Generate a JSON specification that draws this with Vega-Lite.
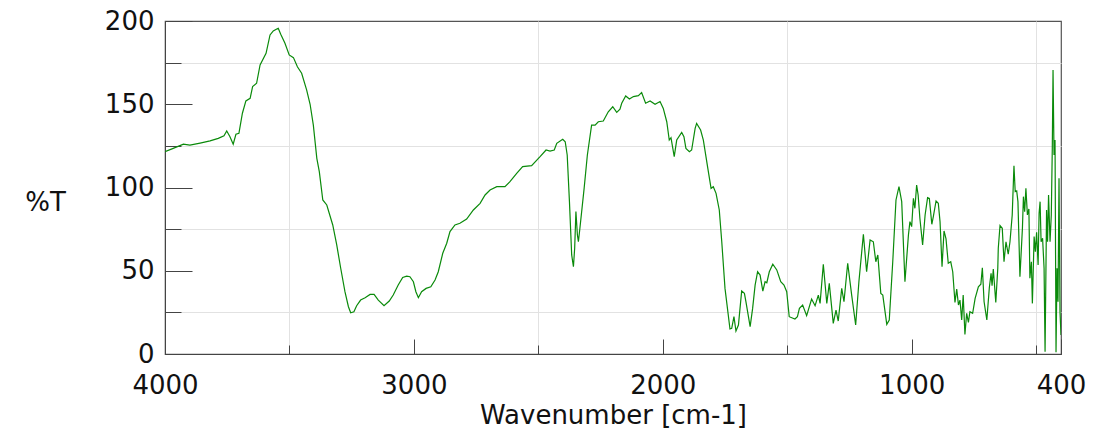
{
  "$schema": "https://vega.github.io/schema/vega-lite/v6.json",
  "width": 896,
  "height": 333,
  "autosize": {"type": "none"},
  "padding": {"left": 165, "top": 21, "right": 39, "bottom": 78},
  "background": "white",
  "config": {
    "view": {"stroke": "#555555", "strokeWidth": 1.2},
    "axis": {
      "domainColor": "#444444",
      "tickColor": "#444444",
      "gridColor": "#e2e2e2",
      "labelFont": "DejaVu Sans",
      "labelFontSize": 26,
      "labelColor": "#111111",
      "titleFont": "DejaVu Sans",
      "titleFontSize": 26,
      "titleFontWeight": "normal",
      "titleColor": "#111111",
      "labelFlush": false,
      "labelOverlap": false
    }
  },
  "data": {
    "values": [
      {"wn": 4000, "t": 121.5}, {"wn": 3967, "t": 123.5}, {"wn": 3926, "t": 126}, {"wn": 3900, "t": 125.5},
      {"wn": 3859, "t": 126.7}, {"wn": 3819, "t": 128}, {"wn": 3786, "t": 129.5}, {"wn": 3763, "t": 131},
      {"wn": 3752, "t": 134}, {"wn": 3739, "t": 130.5}, {"wn": 3726, "t": 126}, {"wn": 3715, "t": 132},
      {"wn": 3703, "t": 132.5}, {"wn": 3689, "t": 144.6}, {"wn": 3675, "t": 152}, {"wn": 3658, "t": 153.6},
      {"wn": 3648, "t": 160.6}, {"wn": 3632, "t": 162.6}, {"wn": 3618, "t": 173.6}, {"wn": 3594, "t": 180.6},
      {"wn": 3578, "t": 191.6}, {"wn": 3565, "t": 194}, {"wn": 3551, "t": 195.2}, {"wn": 3545, "t": 195.6},
      {"wn": 3535, "t": 192}, {"wn": 3518, "t": 186.6}, {"wn": 3501, "t": 179.6}, {"wn": 3484, "t": 178},
      {"wn": 3468, "t": 172.5}, {"wn": 3451, "t": 168.6}, {"wn": 3431, "t": 158.6}, {"wn": 3417, "t": 150},
      {"wn": 3404, "t": 137.5}, {"wn": 3390, "t": 117.5}, {"wn": 3380, "t": 109.5}, {"wn": 3366, "t": 92.5},
      {"wn": 3350, "t": 89.5}, {"wn": 3326, "t": 77.5}, {"wn": 3310, "t": 65.5}, {"wn": 3294, "t": 51.5},
      {"wn": 3277, "t": 37.4}, {"wn": 3263, "t": 28.4}, {"wn": 3254, "t": 24.8}, {"wn": 3241, "t": 25.4},
      {"wn": 3230, "t": 29}, {"wn": 3214, "t": 32.4}, {"wn": 3196, "t": 33.8}, {"wn": 3176, "t": 35.8},
      {"wn": 3160, "t": 35.8}, {"wn": 3143, "t": 32.4}, {"wn": 3120, "t": 29}, {"wn": 3099, "t": 31.8},
      {"wn": 3083, "t": 35.4}, {"wn": 3063, "t": 41.4}, {"wn": 3045, "t": 46}, {"wn": 3029, "t": 46.8},
      {"wn": 3016, "t": 46.4}, {"wn": 3002, "t": 43.4}, {"wn": 2992, "t": 37.4}, {"wn": 2982, "t": 33.8},
      {"wn": 2969, "t": 37.4}, {"wn": 2951, "t": 39.4}, {"wn": 2932, "t": 40.4}, {"wn": 2915, "t": 44.4},
      {"wn": 2902, "t": 49.4}, {"wn": 2884, "t": 60.5}, {"wn": 2868, "t": 66.5}, {"wn": 2855, "t": 73.5},
      {"wn": 2835, "t": 77.5}, {"wn": 2815, "t": 78.5}, {"wn": 2788, "t": 81}, {"wn": 2761, "t": 86.5},
      {"wn": 2734, "t": 90.5}, {"wn": 2714, "t": 95.5}, {"wn": 2694, "t": 98.5}, {"wn": 2667, "t": 100.5},
      {"wn": 2634, "t": 100.5}, {"wn": 2614, "t": 103.5}, {"wn": 2587, "t": 108.5}, {"wn": 2563, "t": 112.5},
      {"wn": 2527, "t": 113.1}, {"wn": 2493, "t": 118.5}, {"wn": 2469, "t": 122.5}, {"wn": 2453, "t": 121.9},
      {"wn": 2436, "t": 122.5}, {"wn": 2426, "t": 126.5}, {"wn": 2402, "t": 129}, {"wn": 2392, "t": 127.5},
      {"wn": 2384, "t": 119.5}, {"wn": 2375, "t": 91.5}, {"wn": 2366, "t": 59.5}, {"wn": 2359, "t": 52.4},
      {"wn": 2354, "t": 63.5}, {"wn": 2349, "t": 85.5}, {"wn": 2343, "t": 71.5}, {"wn": 2339, "t": 67.4},
      {"wn": 2333, "t": 75.5}, {"wn": 2316, "t": 99.5}, {"wn": 2303, "t": 119.5}, {"wn": 2286, "t": 137.5},
      {"wn": 2272, "t": 137.5}, {"wn": 2259, "t": 139.5}, {"wn": 2239, "t": 139.9}, {"wn": 2219, "t": 145.5},
      {"wn": 2201, "t": 148.5}, {"wn": 2185, "t": 145.1}, {"wn": 2172, "t": 147}, {"wn": 2165, "t": 150.6},
      {"wn": 2149, "t": 155}, {"wn": 2134, "t": 153.2}, {"wn": 2118, "t": 154.6}, {"wn": 2098, "t": 155.2},
      {"wn": 2085, "t": 157}, {"wn": 2069, "t": 150.6}, {"wn": 2051, "t": 152}, {"wn": 2031, "t": 150},
      {"wn": 2011, "t": 151.6}, {"wn": 1998, "t": 147.5}, {"wn": 1984, "t": 139.5}, {"wn": 1974, "t": 128.5},
      {"wn": 1967, "t": 129.9}, {"wn": 1954, "t": 118.5}, {"wn": 1944, "t": 128.5}, {"wn": 1924, "t": 133.1},
      {"wn": 1915, "t": 130.5}, {"wn": 1907, "t": 123.5}, {"wn": 1893, "t": 121.5}, {"wn": 1884, "t": 122.5},
      {"wn": 1870, "t": 135.5}, {"wn": 1864, "t": 138.5}, {"wn": 1848, "t": 134.5}, {"wn": 1837, "t": 128.5},
      {"wn": 1819, "t": 111.5}, {"wn": 1806, "t": 99.5}, {"wn": 1797, "t": 100.5}, {"wn": 1786, "t": 96.5},
      {"wn": 1773, "t": 86.5}, {"wn": 1763, "t": 67.4}, {"wn": 1750, "t": 39.4}, {"wn": 1730, "t": 15},
      {"wn": 1723, "t": 15.4}, {"wn": 1714, "t": 22.4}, {"wn": 1706, "t": 13.8}, {"wn": 1696, "t": 17.4},
      {"wn": 1683, "t": 37.8}, {"wn": 1672, "t": 36.4}, {"wn": 1666, "t": 31.4}, {"wn": 1649, "t": 16.4},
      {"wn": 1639, "t": 27.4}, {"wn": 1629, "t": 41.4}, {"wn": 1619, "t": 49.4}, {"wn": 1609, "t": 47.4},
      {"wn": 1598, "t": 37.8}, {"wn": 1589, "t": 43.4}, {"wn": 1582, "t": 42.8}, {"wn": 1572, "t": 49.4},
      {"wn": 1558, "t": 53.9}, {"wn": 1542, "t": 50.5}, {"wn": 1526, "t": 43.4}, {"wn": 1513, "t": 41.4},
      {"wn": 1502, "t": 37.4}, {"wn": 1492, "t": 22.4}, {"wn": 1469, "t": 21}, {"wn": 1459, "t": 22.4},
      {"wn": 1451, "t": 27.4}, {"wn": 1438, "t": 29.4}, {"wn": 1422, "t": 23}, {"wn": 1402, "t": 33},
      {"wn": 1388, "t": 29}, {"wn": 1375, "t": 35.4}, {"wn": 1368, "t": 30.4}, {"wn": 1355, "t": 53.9},
      {"wn": 1341, "t": 30.4}, {"wn": 1331, "t": 42.4}, {"wn": 1315, "t": 18.4}, {"wn": 1304, "t": 26.4},
      {"wn": 1295, "t": 19.8}, {"wn": 1281, "t": 39.4}, {"wn": 1272, "t": 31.4}, {"wn": 1257, "t": 54.5},
      {"wn": 1241, "t": 35.4}, {"wn": 1225, "t": 17.4}, {"wn": 1212, "t": 43.4}, {"wn": 1194, "t": 71.9},
      {"wn": 1181, "t": 49.4}, {"wn": 1167, "t": 68.5}, {"wn": 1154, "t": 67.4}, {"wn": 1144, "t": 55.4},
      {"wn": 1136, "t": 59.5}, {"wn": 1124, "t": 36.4}, {"wn": 1116, "t": 35.4}, {"wn": 1100, "t": 17.8},
      {"wn": 1090, "t": 20.4}, {"wn": 1076, "t": 55.4}, {"wn": 1063, "t": 92.5}, {"wn": 1051, "t": 100.5},
      {"wn": 1040, "t": 91.5}, {"wn": 1027, "t": 43.4}, {"wn": 1013, "t": 71.5}, {"wn": 1007, "t": 79.5},
      {"wn": 1000, "t": 76.5}, {"wn": 993, "t": 93.5}, {"wn": 987, "t": 87.5}, {"wn": 980, "t": 101.5},
      {"wn": 974, "t": 95.5}, {"wn": 967, "t": 81.5}, {"wn": 956, "t": 65.5}, {"wn": 946, "t": 83.5},
      {"wn": 936, "t": 93.9}, {"wn": 929, "t": 93.5}, {"wn": 919, "t": 77.9}, {"wn": 913, "t": 82.5},
      {"wn": 902, "t": 91.9}, {"wn": 893, "t": 90.5}, {"wn": 886, "t": 79.5}, {"wn": 878, "t": 52.4},
      {"wn": 870, "t": 73.9}, {"wn": 862, "t": 69.1}, {"wn": 853, "t": 54.5}, {"wn": 843, "t": 55.4},
      {"wn": 835, "t": 49.4}, {"wn": 826, "t": 31}, {"wn": 819, "t": 39}, {"wn": 812, "t": 29.4},
      {"wn": 806, "t": 32.4}, {"wn": 799, "t": 20.4}, {"wn": 793, "t": 35.4}, {"wn": 786, "t": 11.8},
      {"wn": 779, "t": 24.4}, {"wn": 772, "t": 19}, {"wn": 766, "t": 25.4}, {"wn": 755, "t": 24.4},
      {"wn": 745, "t": 33.4}, {"wn": 732, "t": 40.4}, {"wn": 722, "t": 41.9}, {"wn": 716, "t": 51.8},
      {"wn": 709, "t": 31.4}, {"wn": 698, "t": 20.4}, {"wn": 688, "t": 39.8}, {"wn": 681, "t": 48.5},
      {"wn": 677, "t": 41}, {"wn": 672, "t": 51}, {"wn": 662, "t": 31}, {"wn": 654, "t": 51.5},
      {"wn": 652, "t": 63.5}, {"wn": 645, "t": 77.1}, {"wn": 636, "t": 75.5}, {"wn": 629, "t": 55.4},
      {"wn": 621, "t": 67.4}, {"wn": 612, "t": 59.9}, {"wn": 605, "t": 67.4}, {"wn": 596, "t": 83.5},
      {"wn": 589, "t": 113.1}, {"wn": 584, "t": 97.5}, {"wn": 578, "t": 97.9}, {"wn": 573, "t": 91.5},
      {"wn": 565, "t": 46.4}, {"wn": 555, "t": 75.5}, {"wn": 551, "t": 94.5}, {"wn": 546, "t": 85.5},
      {"wn": 541, "t": 99.5}, {"wn": 535, "t": 83.5}, {"wn": 529, "t": 87.1}, {"wn": 525, "t": 45.5},
      {"wn": 519, "t": 55.4}, {"wn": 515, "t": 30.4}, {"wn": 508, "t": 70.5}, {"wn": 503, "t": 61.4},
      {"wn": 498, "t": 73.1}, {"wn": 492, "t": 53.5}, {"wn": 488, "t": 84.5}, {"wn": 484, "t": 91.5},
      {"wn": 480, "t": 67.4}, {"wn": 474, "t": 69.5}, {"wn": 468, "t": 51.5}, {"wn": 464, "t": 1.4},
      {"wn": 458, "t": 86.5}, {"wn": 454, "t": 67.4}, {"wn": 450, "t": 95.5}, {"wn": 444, "t": 67.4},
      {"wn": 439, "t": 83.5}, {"wn": 435, "t": 123.5}, {"wn": 432, "t": 170.6}, {"wn": 428, "t": 119.5},
      {"wn": 424, "t": 128.5}, {"wn": 420, "t": 1}, {"wn": 416, "t": 51.5}, {"wn": 412, "t": 31.4},
      {"wn": 408, "t": 105.5}, {"wn": 404, "t": 25.4}, {"wn": 400, "t": 11.4}
    ]
  },
  "mark": {"type": "line", "color": "#0a8a0a", "strokeWidth": 1.2, "clip": true, "interpolate": "linear"},
  "encoding": {
    "x": {
      "field": "wn",
      "type": "quantitative",
      "scale": {"domain": [400, 4000], "reverse": true, "nice": false, "zero": false},
      "axis": {
        "title": "Wavenumber [cm-1]",
        "values": [4000, 3500, 3000, 2500, 2000, 1500, 1000, 500, 400],
        "format": "d",
        "labelExpr": "datum.value % 1000 == 500 ? '' : datum.label",
        "grid": true,
        "gridOpacity": {"condition": {"test": "datum.value % 1000 == 500", "value": 1}, "value": 0},
        "tickSize": {"condition": {"test": "datum.value % 1000 == 500", "value": -9}, "value": -15},
        "labelPadding": 33,
        "labelBaseline": "top",
        "titleBaseline": "alphabetic",
        "titleY": 69
      }
    },
    "y": {
      "field": "t",
      "type": "quantitative",
      "scale": {"domain": [0, 200], "nice": false},
      "axis": {
        "title": "%T",
        "values": [0, 25, 50, 75, 100, 125, 150, 175, 200],
        "labelExpr": "datum.value % 50 == 0 ? datum.label : ''",
        "grid": true,
        "gridOpacity": {"condition": {"test": "datum.value % 50 == 25", "value": 1}, "value": 0},
        "tickSize": {"condition": {"test": "datum.value % 50 == 25", "value": -16}, "value": -27},
        "labelPadding": 38,
        "titleAngle": 0,
        "titleAlign": "center",
        "titleBaseline": "middle",
        "titleX": -120,
        "titleY": 181
      }
    }
  }
}
